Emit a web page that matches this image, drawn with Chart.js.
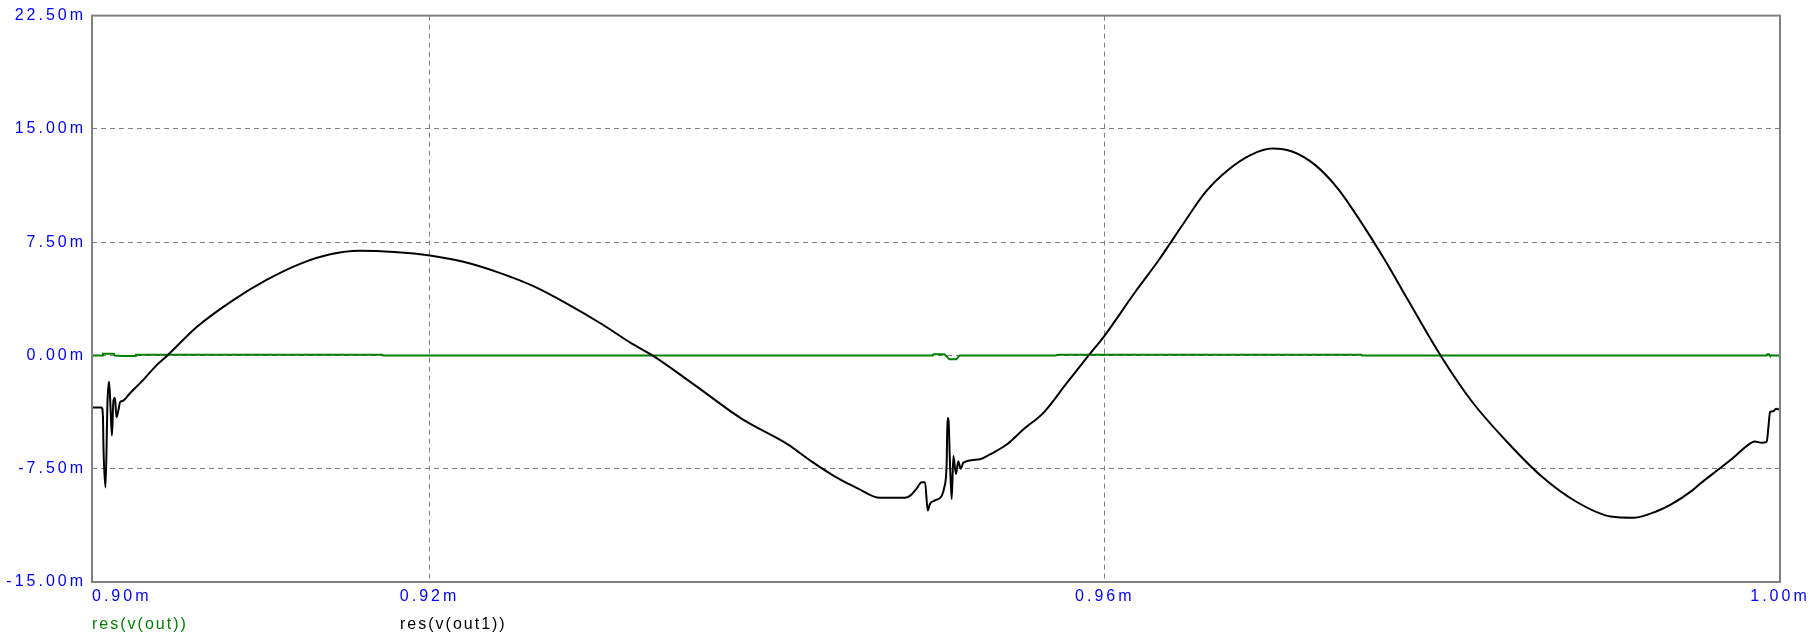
<!DOCTYPE html>
<html><head><meta charset="utf-8">
<script src="https://cdn.jsdelivr.net/npm/chart.js@4.4.1/dist/chart.umd.min.js"></script>
<style>html,body{margin:0;padding:0;background:#fff;overflow:hidden}#wrap{width:1817px;height:640px;position:relative}canvas{display:block}</style>
</head><body><div id="wrap"><canvas id="c" width="1817" height="640"></canvas></div>
<script>
// ---- data (time in ms, value in mV) ----
const seriesNames = ['res(v(out))', 'res(v(out1))'];
const seriesColors = ['#008000', '#000000'];

const timeOut = [0.9000, 0.90060, 0.90065, 0.90130, 0.90135, 0.90180, 0.90255, 0.90260, 0.91720, 0.91725,
  0.94980, 0.94985, 0.95050, 0.95080, 0.95120, 0.95140, 0.95710, 0.95720, 0.97520, 0.97525, 0.99920, 0.99925, 0.99935, 0.99940, 1.0000];
const valOut = [0, 0, 0.11, 0.11, 0, -0.03, -0.03, 0.05, 0.05, 0,
  0, 0.08, 0.08, -0.26, -0.26, 0, 0, 0.05, 0.05, 0, 0, 0.08, 0.08, 0, 0];

const timeOut1 = [0.9000, 0.90057, 0.90065, 0.90068, 0.90080, 0.90092, 0.90101, 0.90110, 0.90118, 0.90127,
  0.90136, 0.90145, 0.90157, 0.90166, 0.90184, 0.90225, 0.90304, 0.90383, 0.90447, 0.90622,
  0.90828, 0.91034, 0.91240, 0.91412, 0.91584, 0.91790, 0.92002, 0.92200, 0.92406, 0.92612,
  0.92818, 0.93024, 0.93196, 0.93320, 0.93575, 0.93850, 0.94124, 0.94260, 0.94399, 0.94536,
  0.94668, 0.94816, 0.94846, 0.94886, 0.94915, 0.94935, 0.94951, 0.94964, 0.94994, 0.95034,
  0.95049, 0.95063, 0.95068, 0.95074, 0.95083, 0.95093, 0.95103, 0.95118, 0.95132, 0.95146,
  0.95162, 0.95261, 0.95320, 0.95419, 0.95517, 0.95636, 0.95774, 0.95904, 0.95998, 0.96180,
  0.96319, 0.96458, 0.96595, 0.96732, 0.96869, 0.96993, 0.97110, 0.97247, 0.97384, 0.97522,
  0.97660, 0.97797, 0.97989, 0.98175, 0.98381, 0.98587, 0.98791, 0.98997, 0.99135, 0.99273,
  0.99350, 0.99479, 0.99526, 0.99625, 0.99723, 0.99802, 0.99851, 0.99891, 0.99921, 0.99931,
  0.99941, 0.99961, 0.99976, 1.0000];
const valOut1 = [-3.45, -3.45, -4.1, -6.1, -8.75, -3.0, -1.75, -3.5, -5.3, -3.0,
  -2.8, -4.1, -3.6, -3.1, -3.0, -2.5, -1.62, -0.64, 0, 1.9,
  3.6, 5.0, 6.1, 6.7, 6.93, 6.85, 6.62, 6.2, 5.5, 4.6,
  3.4, 2.05, 0.8, 0, -2.0, -4.2, -5.9, -7.0, -8.0, -8.8,
  -9.43, -9.43, -9.3, -8.8, -8.4, -8.4, -10.27, -9.83, -9.6, -9.3,
  -8.74, -7.2, -4.14, -4.3, -7.2, -9.5, -6.66, -7.85, -7.0, -7.5,
  -7.1, -6.87, -6.55, -5.9, -4.9, -3.8, -1.84, 0, 1.3, 4.2,
  6.3, 8.6, 10.8, 12.3, 13.3, 13.7, 13.5, 12.6, 11.0, 8.76,
  6.3, 3.65, 0, -3.05, -5.7, -8.0, -9.67, -10.66, -10.74, -10.3,
  -9.9, -8.95, -8.5, -7.64, -6.77, -6.0, -5.7, -5.78, -5.72, -4.8,
  -3.75, -3.7, -3.53, -3.6];

const xTickValues = [0.90, 0.92, 0.96, 1.00];
const xTickLabels = ['0.90m', '0.92m', '0.96m', '1.00m'];
const yTickValues = [-15, -7.5, 0, 7.5, 15, 22.5];
const yTickLabels = ['-15.00m', '-7.50m', '0.00m', '7.50m', '15.00m', '22.50m'];

// ---- build ----
const toPts = (t, v) => t.map((x, i) => ({ x: x, y: v[i] }));
const LABEL_FONT = { family: 'Liberation Sans', size: 16 };
const GRID = '#808080';
const SPACING = '3px';

const framePlugin = {
  id: 'frame',
  beforeUpdate(chart) { chart.ctx.letterSpacing = SPACING; },
  beforeDraw(chart) {
    const ctx = chart.ctx;
    ctx.save();
    ctx.fillStyle = '#ffffff';
    ctx.fillRect(0, 0, chart.width, chart.height);
    ctx.restore();
    ctx.letterSpacing = SPACING;
    const xs = chart.scales.x;
    const items = xs.getLabelItems(chart.chartArea);
    if (items && items.length) {
      const o = items[0].options || items[0];
      o.textAlign = 'left';
    }
  },
  afterDatasetsDraw(chart) {
    const ctx = chart.ctx, a = chart.chartArea;
    ctx.save();
    ctx.strokeStyle = GRID;
    ctx.lineWidth = 2;
    ctx.setLineDash([]);
    ctx.strokeRect(a.left, a.top, a.right - a.left, a.bottom - a.top);
    ctx.restore();
  },
  afterDraw(chart) {
    const ctx = chart.ctx;
    const xs = [92, 400];
    ctx.save();
    ctx.letterSpacing = '2px';
    ctx.font = '16px "Liberation Sans"';
    ctx.textBaseline = 'middle';
    ctx.textAlign = 'left';
    chart.data.datasets.forEach((ds, i) => {
      ctx.fillStyle = ds.borderColor;
      ctx.fillText(ds.label, xs[i], 625);
    });
    ctx.restore();
  }
};

const edgeTransparent = (ctx, n) => (ctx.index === 0 || ctx.index === n - 1) ? 'rgba(0,0,0,0)' : GRID;

new Chart(document.getElementById('c'), {
  type: 'line',
  data: {
    datasets: [
      { label: seriesNames[0], data: toPts(timeOut, valOut), borderColor: seriesColors[0], borderWidth: 2,
        pointRadius: 0, tension: 0, order: 1 },
      { label: seriesNames[1], data: toPts(timeOut1, valOut1), borderColor: seriesColors[1], borderWidth: 2,
        pointRadius: 0, cubicInterpolationMode: 'monotone', order: 0 }
    ]
  },
  options: {
    responsive: false,
    animation: false,
    devicePixelRatio: 1,
    layout: { padding: { top: 11, right: 37, left: 0, bottom: 0 } },
    plugins: { legend: { display: false }, tooltip: { enabled: false } },
    scales: {
      x: {
        type: 'linear', min: 0.9, max: 1.0,
        afterBuildTicks: s => { s.ticks = xTickValues.map(v => ({ value: v })); },
        afterFit: s => { s.height = 58; },
        ticks: { callback: (v, i) => xTickLabels[i], color: '#0000ff', font: LABEL_FONT, padding: 5,
                 maxRotation: 0, autoSkip: false },
        grid: { color: c => edgeTransparent(c, xTickValues.length), drawTicks: false, lineWidth: 1 },
        border: { display: false, dash: [5, 4] }
      },
      y: {
        type: 'linear', min: -15, max: 22.5,
        afterBuildTicks: s => { s.ticks = yTickValues.map(v => ({ value: v })); },
        afterFit: s => { s.width = 92; },
        ticks: { callback: (v, i) => yTickLabels[i], color: '#0000ff', font: LABEL_FONT, padding: 6, autoSkip: false },
        grid: { color: c => edgeTransparent(c, yTickValues.length), drawTicks: false, lineWidth: 1 },
        border: { display: false, dash: [5, 4] }
      }
    }
  },
  plugins: [framePlugin]
});
</script>
</body></html>
